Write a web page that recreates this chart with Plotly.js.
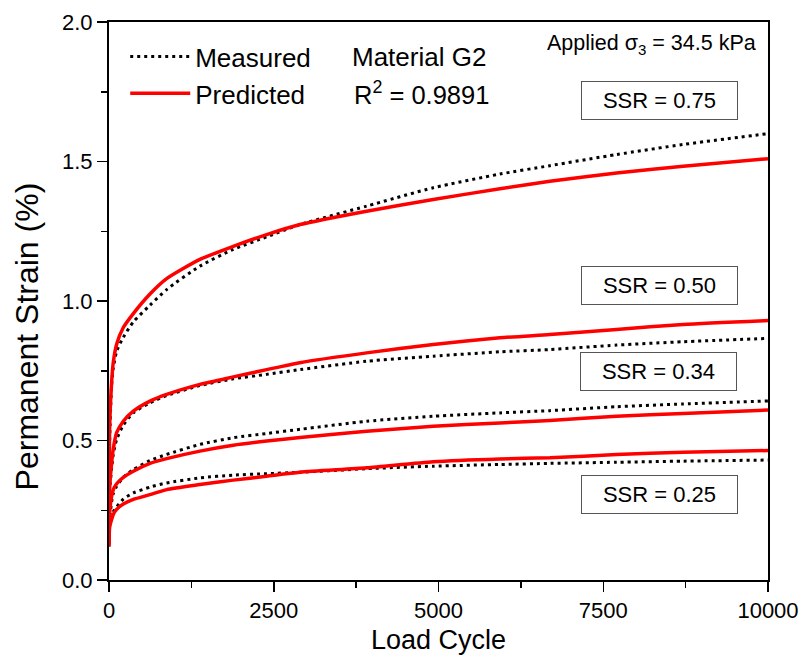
<!DOCTYPE html>
<html>
<head>
<meta charset="utf-8">
<script src="https://cdn.plot.ly/plotly-3.0.1.min.js"></script>
<style>
html, body { margin: 0; padding: 0; background: #ffffff; }
#chart { width: 801px; height: 658px; }
</style>
</head>
<body>
<div id="chart"></div>
<script>
const cycles = [0, 10, 40, 65, 116, 217, 369, 622, 875, 1380, 1886, 2392, 2898, 3909, 4920, 5932, 6690, 7702, 8713, 10000];

// Measured (black dotted)
const measured_075 = [0.15, 0.50, 0.70, 0.76, 0.82, 0.87, 0.925, 0.985, 1.041, 1.125, 1.185, 1.230, 1.274, 1.340, 1.406, 1.455, 1.485, 1.525, 1.561, 1.600];
const measured_050 = [0.14, 0.32, 0.40, 0.45, 0.504, 0.555, 0.599, 0.635, 0.661, 0.697, 0.721, 0.737, 0.754, 0.784, 0.802, 0.818, 0.826, 0.842, 0.854, 0.866];
const measured_034 = [0.13, 0.22, 0.28, 0.31, 0.336, 0.368, 0.396, 0.428, 0.450, 0.486, 0.510, 0.525, 0.540, 0.569, 0.587, 0.599, 0.607, 0.621, 0.631, 0.642];
const measured_025 = [0.12, 0.20, 0.23, 0.245, 0.262, 0.290, 0.312, 0.333, 0.348, 0.366, 0.376, 0.381, 0.386, 0.399, 0.408, 0.414, 0.418, 0.422, 0.426, 0.430];

// Predicted (red solid)
const predicted_075 = [0.15, 0.55, 0.71, 0.78, 0.845, 0.905, 0.955, 1.025, 1.08, 1.149, 1.196, 1.238, 1.274, 1.322, 1.364, 1.402, 1.429, 1.459, 1.483, 1.510];
const predicted_050 = [0.14, 0.33, 0.42, 0.47, 0.528, 0.569, 0.605, 0.641, 0.665, 0.701, 0.728, 0.754, 0.779, 0.814, 0.844, 0.868, 0.880, 0.898, 0.916, 0.930];
const predicted_034 = [0.13, 0.24, 0.30, 0.324, 0.345, 0.368, 0.390, 0.418, 0.435, 0.462, 0.483, 0.498, 0.511, 0.533, 0.551, 0.563, 0.572, 0.587, 0.597, 0.609];
const predicted_025 = [0.12, 0.19, 0.217, 0.235, 0.253, 0.272, 0.289, 0.306, 0.324, 0.342, 0.358, 0.372, 0.386, 0.402, 0.424, 0.434, 0.438, 0.450, 0.458, 0.464];

const measuredSeries = [measured_075, measured_050, measured_034, measured_025];
const predictedSeries = [predicted_075, predicted_050, predicted_034, predicted_025];

// Labels
const ssrLabels = ['SSR = 0.75', 'SSR = 0.50', 'SSR = 0.34', 'SSR = 0.25'];
const ssrLabelX = [8360, 8350, 8336, 8350];
const ssrLabelY = [1.719, 1.055, 0.747, 0.306];
const xTickVals = [0, 2500, 5000, 7500, 10000];
const yTickVals = [0.0, 0.5, 1.0, 1.5, 2.0];

const FONT = 'Arial, "Liberation Sans", sans-serif';

const traces = [];
measuredSeries.forEach((s, i) => {
  traces.push({
    x: cycles, y: s, type: 'scatter', mode: 'lines',
    name: 'Measured', legendgroup: 'meas', showlegend: i === 0,
    line: { color: '#000000', width: 3, dash: '3px,4px', shape: 'spline', smoothing: 0.6 },
    hoverinfo: 'skip'
  });
});
predictedSeries.forEach((s, i) => {
  traces.push({
    x: cycles, y: s, type: 'scatter', mode: 'lines',
    name: 'Predicted', legendgroup: 'pred', showlegend: i === 0,
    line: { color: '#ff0000', width: 3.5, shape: 'spline', smoothing: 0.6 },
    hoverinfo: 'skip'
  });
});

const annotations = ssrLabels.map((t, i) => ({
  x: ssrLabelX[i], y: ssrLabelY[i], xref: 'x', yref: 'y',
  text: t, showarrow: false, xanchor: 'center', yanchor: 'middle',
  width: 155, height: 37, borderpad: 0,
  bordercolor: '#555555', borderwidth: 1, bgcolor: '#ffffff',
  font: { family: FONT, size: 22, color: '#000000' }
}));
annotations.push({
  x: 3656, y: 1.876, xref: 'x', yref: 'y', text: 'Material G2',
  showarrow: false, xanchor: 'left', yanchor: 'middle',
  font: { family: FONT, size: 26, color: '#000000' }
});
annotations.push({
  x: 3686, y: 1.746, xref: 'x', yref: 'y', text: 'R<sup>2</sup> = 0.9891',
  showarrow: false, xanchor: 'left', yanchor: 'middle',
  font: { family: FONT, size: 25.5, color: '#000000' }
});
annotations.push({
  x: 9845, y: 1.919, xref: 'x', yref: 'y', text: 'Applied σ<sub>3</sub> = 34.5 kPa',
  showarrow: false, xanchor: 'right', yanchor: 'middle',
  font: { family: FONT, size: 21.5, color: '#000000' }
});

const layout = {
  width: 801, height: 658,
  margin: { l: 109, r: 33, t: 22, b: 78, pad: 0 },
  paper_bgcolor: '#ffffff', plot_bgcolor: '#ffffff',
  font: { family: FONT, color: '#000000' },
  showlegend: true,
  legend: {
    x: 0.0246, y: 0.98, xanchor: 'left', yanchor: 'top',
    bgcolor: 'rgba(0,0,0,0)', borderwidth: 0,
    font: { family: FONT, size: 26, color: '#000000' },
    itemwidth: 60, tracegroupgap: 0
  },
  xaxis: {
    range: [0, 10000], tickmode: 'array', tickvals: xTickVals,
    ticktext: xTickVals.map(v => String(v)),
    ticks: 'outside', ticklen: 10, tickwidth: 1.5, tickcolor: '#000000',
    minor: { tickmode: 'linear', tick0: 0, dtick: 1250, ticks: 'outside', ticklen: 6, tickwidth: 1.5, tickcolor: '#000000', showgrid: false },
    showline: true, linewidth: 2, linecolor: '#000000', mirror: true,
    showgrid: false, zeroline: false,
    tickfont: { family: FONT, size: 22, color: '#000000' },
    title: { text: 'Load Cycle', font: { family: FONT, size: 27, color: '#000000' }, standoff: 8 }
  },
  yaxis: {
    range: [0, 2], tickmode: 'array', tickvals: yTickVals,
    ticktext: yTickVals.map(v => v.toFixed(1)),
    ticks: 'outside', ticklen: 10, tickwidth: 1.5, tickcolor: '#000000',
    minor: { tickmode: 'linear', tick0: 0, dtick: 0.25, ticks: 'outside', ticklen: 6, tickwidth: 1.5, tickcolor: '#000000', showgrid: false },
    showline: true, linewidth: 2, linecolor: '#000000', mirror: true,
    showgrid: false, zeroline: false,
    tickfont: { family: FONT, size: 22, color: '#000000' },
    title: { text: 'Permanent Strain (%)&nbsp;&nbsp;&nbsp;&nbsp;&nbsp;&nbsp;&nbsp;&nbsp;', font: { family: FONT, size: 32, color: '#000000' }, standoff: 14 }
  },
  annotations: annotations
};

Plotly.newPlot('chart', traces, layout, { staticPlot: true, displayModeBar: false });
</script>
</body>
</html>
